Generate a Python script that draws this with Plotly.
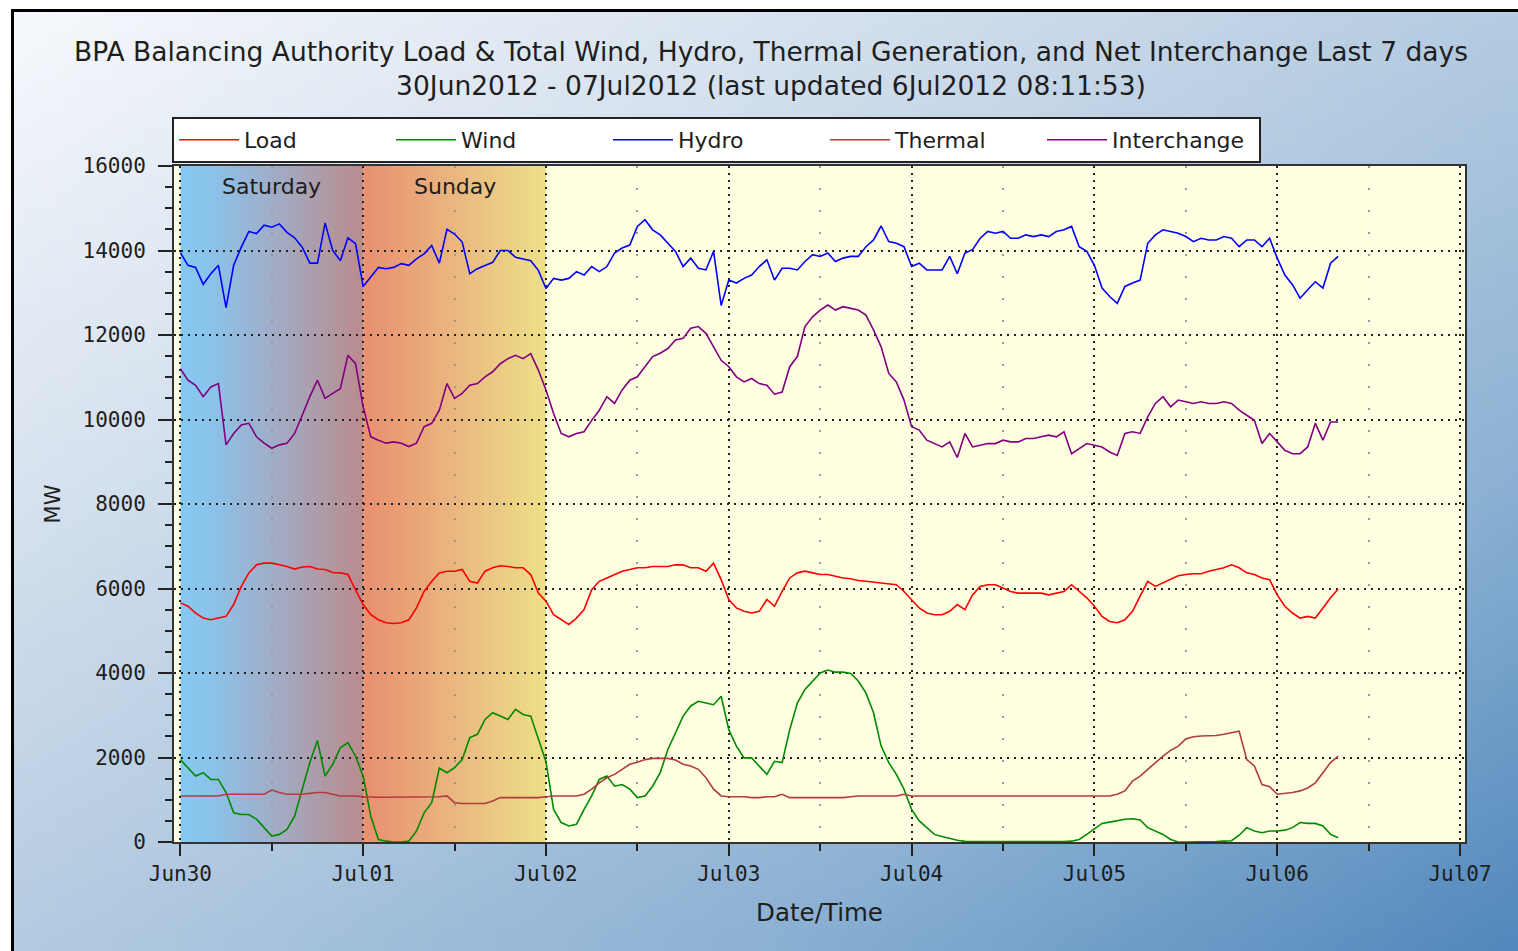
import plotly.graph_objects as go
import pandas as pd
import zlib, struct, base64

# ---------------- data (hourly readings, 30Jun2012 00:00 .. 06Jul2012 08:00) ----------------
times = pd.date_range("2012-06-30 00:00", "2012-07-06 08:00", freq="1h")

load = [5660, 5580, 5420, 5300, 5260, 5300, 5340, 5620, 6050, 6370, 6560, 6600, 6600, 6560, 6520, 6460, 6510, 6520, 6460, 6450, 6380, 6370, 6330, 5970, 5620,
        5380, 5260, 5190, 5170, 5190, 5260, 5540, 5930, 6170, 6370, 6410, 6410, 6450, 6170, 6130, 6410, 6490, 6540, 6520, 6490, 6490, 6330, 5890, 5700,
        5380, 5260, 5150, 5300, 5500, 5970, 6170, 6250, 6330, 6410, 6450, 6490, 6490, 6520, 6520, 6520, 6560, 6560, 6490, 6490, 6410, 6600, 6210, 5740,
        5540, 5460, 5420, 5460, 5740, 5580, 5930, 6250, 6370, 6410, 6370, 6330, 6330, 6290, 6250, 6230, 6190, 6170, 6150, 6130, 6110, 6090, 5930, 5740,
        5540, 5420, 5380, 5380, 5460, 5620, 5500, 5850, 6050, 6090, 6090, 6010, 5930, 5890, 5890, 5890,
        5890, 5850, 5890, 5930, 6090, 5930, 5780, 5580, 5340, 5220, 5190, 5260, 5460, 5820, 6170, 6050, 6130, 6210, 6300, 6330, 6350, 6350, 6410, 6450,
        6490, 6560, 6490, 6370, 6330, 6250, 6210, 5850, 5580, 5420, 5300, 5340, 5300, 5540, 5780, 5990]

wind = [1950, 1760, 1560, 1640, 1480, 1480, 1170, 690, 650, 650, 540, 340, 140, 180, 300, 610, 1250, 1880, 2400, 1560, 1840, 2230, 2350, 2030, 1560,
        610, 60, 20, 0, 0, 20, 260, 690, 930, 1750, 1640, 1760, 1950, 2470, 2550, 2900, 3060, 2980, 2900, 3140, 3020, 2980, 2430, 1900,
        770, 460, 380, 420, 770, 1090, 1480, 1560, 1320, 1360, 1250, 1050, 1090, 1320, 1640, 2190, 2580, 2980, 3220, 3330, 3290, 3250, 3450, 2660,
        2270, 1990, 1990, 1800, 1600, 1910, 1880, 2660, 3290, 3610, 3810, 4000, 4070, 4020, 4020, 3990, 3810, 3530, 3060, 2270, 1880, 1600, 1250, 770,
        500, 340, 180, 130, 80, 40, 15,
        10, 10, 10, 10, 10, 10, 10, 10,
        0, 0, 0, 0, 10, 20, 60, 180, 300, 440, 470, 500, 540, 550, 520, 340, 260, 180, 60, 0, 0, 0, 10, 10, 10, 20, 30, 160, 340, 260, 220, 260,
        260, 280, 340, 460, 440, 440, 380, 180, 100]

hydro = [13950, 13650, 13600, 13200, 13450, 13650, 12650, 13650, 14080, 14450, 14400, 14600, 14550, 14630, 14430, 14300, 14080, 13700, 13700, 14650, 14000, 13760, 14300, 14160, 13150,
         13370, 13600, 13570, 13600, 13690, 13650, 13800, 13920, 14120, 13700, 14500, 14390, 14200, 13450, 13570, 13650, 13720, 14000, 14000, 13840, 13800, 13760, 13530, 13100,
         13340, 13300, 13340, 13500, 13420, 13620, 13500, 13620, 13940, 14060, 14130, 14570, 14730, 14490, 14370, 14170, 13980, 13620, 13820, 13580, 13540, 13980, 12700,
         13300, 13230, 13340, 13420, 13620, 13780, 13300, 13580, 13580, 13540, 13740, 13900, 13860, 13940,
         13740, 13820, 13860, 13860, 14090, 14250, 14580, 14210, 14170, 14090, 13620, 13700, 13540, 13540, 13540, 13860, 13450, 13940, 14020, 14290, 14450, 14410, 14450, 14290,
         14290, 14370, 14330, 14370, 14330, 14450, 14490, 14570, 14090, 13980, 13650,
         13110, 12910, 12750, 13150, 13230, 13300, 14170, 14370, 14490, 14450, 14410, 14330, 14210, 14290, 14250, 14250, 14330, 14290, 14090, 14250, 14250, 14090, 14290,
         13820, 13420, 13190, 12870, 13070, 13260, 13110, 13700, 13860]

thermal = [1090, 1090, 1090, 1090, 1090, 1090, 1130, 1130, 1130, 1130, 1130, 1130, 1230, 1170, 1130, 1130, 1130, 1150, 1170, 1170, 1130, 1090, 1090, 1090, 1070,
           1060, 1060, 1060, 1060, 1060, 1060, 1060, 1060, 1060, 1070, 1090, 930, 910, 910, 910, 910, 970, 1050, 1050, 1050, 1050, 1050, 1050, 1070,
           1090, 1090, 1090, 1090, 1130, 1250, 1400, 1520, 1600, 1720, 1840, 1890, 1950, 1980, 1980, 1980, 1940, 1840, 1800, 1720, 1520, 1250, 1090,
           1070, 1070, 1070, 1050, 1050, 1070, 1070, 1130, 1050, 1050, 1050, 1050, 1050, 1050, 1050, 1050, 1070, 1090, 1090, 1090, 1090, 1090, 1090, 1130,
           1090, 1090, 1090, 1090, 1090, 1090, 1090, 1090, 1090, 1090, 1090, 1090, 1090, 1090, 1090, 1090, 1090,
           1090, 1090, 1090, 1090, 1090, 1090, 1090, 1090, 1090, 1090, 1130, 1210, 1440, 1560, 1720, 1880, 2030, 2170, 2270, 2440, 2490, 2510, 2510, 2520,
           2550, 2580, 2620, 1950, 1800, 1360, 1310, 1130, 1150, 1170, 1210, 1280, 1400, 1640, 1880, 2030]

interchange = [11200, 10930, 10810, 10540, 10770, 10850, 9400, 9670, 9870, 9910, 9590, 9440, 9320, 9400, 9440, 9670, 10100, 10540, 10930, 10500, 10620, 10730, 11520, 11320, 10300,
               9590, 9510, 9440, 9470, 9440, 9360, 9440, 9830, 9910, 10220, 10850, 10500, 10620, 10810, 10850, 11010, 11130, 11320, 11440, 11520, 11440, 11560, 11170, 10700,
               10140, 9670, 9590, 9670, 9710, 9980, 10220, 10540, 10380, 10700, 10930, 11010, 11250, 11490, 11570, 11680, 11880, 11920, 12160, 12200, 12040, 11720, 11400,
               11250, 11010, 10890, 10970, 10850, 10810, 10600, 10650, 11250, 11490, 12200, 12430, 12590, 12710,
               12590, 12670, 12630, 12590, 12470, 12120, 11720, 11090, 10890, 10460, 9830, 9750, 9510, 9430, 9350, 9470, 9100, 9670, 9350, 9390, 9430, 9430, 9510, 9470,
               9470, 9550, 9550, 9590, 9630, 9590, 9710, 9190, 9310, 9430, 9390,
               9350, 9230, 9150, 9670, 9710, 9670, 10060, 10380, 10540, 10300, 10460, 10420, 10380, 10420, 10380, 10380, 10420, 10380, 10220, 10100, 9980, 9430, 9670,
               9470, 9270, 9190, 9190, 9350, 9910, 9510, 9940, 9940]

series_names = ["Load", "Wind", "Hydro", "Thermal", "Interchange"]
series_colors = ["#ff0000", "#008a00", "#0000ff", "#b03c3c", "#800080"]
weekend_days = ["2012-06-30", "2012-07-01"]
weekend_labels = ["Saturday", "Sunday"]
title_lines = ["BPA Balancing Authority Load &amp; Total Wind, Hydro, Thermal Generation, and Net Interchange Last 7 days",
               "30Jun2012 - 07Jul2012 (last updated 6Jul2012 08:11:53)"]

# ---------------- helpers: tiny PNG gradient builder ----------------
def lerp_stops(stops, t):
    t = max(0.0, min(1.0, t))
    for k in range(len(stops) - 1):
        t0, c0 = stops[k]
        t1, c1 = stops[k + 1]
        if t <= t1:
            f = (t - t0) / (t1 - t0) if t1 > t0 else 0
            return tuple(int(round(c0[i] + (c1[i] - c0[i]) * f)) for i in range(3))
    return stops[-1][1]

def make_png(w, h, pixel):
    raw = bytearray()
    for j in range(h):
        raw.append(0)
        for i in range(w):
            raw += bytes(pixel(i, j))
    def chunk(tag, data):
        return struct.pack(">I", len(data)) + tag + data + struct.pack(">I", zlib.crc32(tag + data) & 0xffffffff)
    png = (b"\x89PNG\r\n\x1a\n" + chunk(b"IHDR", struct.pack(">IIBBBBB", w, h, 8, 2, 0, 0, 0))
           + chunk(b"IDAT", zlib.compress(bytes(raw), 9)) + chunk(b"IEND", b""))
    return "data:image/png;base64," + base64.b64encode(png).decode()

bg_stops = [(0.0, (246, 248, 252)), (0.25, (216, 227, 239)), (0.5, (180, 203, 225)),
            (0.75, (140, 177, 211)), (1.0, (82, 137, 188))]
BW, BH = 96, 60
bg_src = make_png(BW, BH, lambda i, j: lerp_stops(bg_stops, ((i / (BW - 1)) + (j / (BH - 1))) / 2))

sat_stops = [(0.0, (135, 201, 241)), (0.15, (138, 196, 236)), (0.5, (160, 174, 200)), (1.0, (186, 140, 142))]
sun_stops = [(0.0, (232, 144, 112)), (0.5, (234, 183, 128)), (1.0, (237, 224, 136))]
sat_src = make_png(64, 2, lambda i, j: lerp_stops(sat_stops, i / 63))
sun_src = make_png(64, 2, lambda i, j: lerp_stops(sun_stops, i / 63))

# ---------------- figure ----------------
W, H = 1518, 951
L, R, T, B = 174, 53, 166, 109
PW, PH = W - L - R, H - T - B

def px_x(px):
    return (px - L) / PW

def px_y(py):
    return (H - B - py) / PH

FONT = "DejaVu Sans"
MONO = "DejaVu Sans Mono"
TXT = "#1e1e1e"

fig = go.Figure()
for name, color, vals in zip(series_names, series_colors, [load, wind, hydro, thermal, interchange]):
    fig.add_trace(go.Scatter(x=times, y=vals, mode="lines", name=name,
                             line=dict(color=color, width=1.6)))

images = [
    dict(source=bg_src, xref="paper", yref="paper", x=px_x(12), y=px_y(10),
         sizex=(W - 12) / PW, sizey=(H - 10) / PH, xanchor="left", yanchor="top",
         sizing="stretch", layer="below"),
]
for day, src in zip(weekend_days, [sat_src, sun_src]):
    images.append(dict(source=src, xref="x", yref="y", x=day, y=16000,
                       sizex=86400000, sizey=16000, xanchor="left", yanchor="top",
                       sizing="stretch", layer="below"))

shapes = [
    dict(type="rect", xref="paper", yref="paper", x0=0, x1=1, y0=0, y1=1,
         fillcolor="#fffee1", line=dict(width=0), layer="below"),
    dict(type="rect", xref="paper", yref="paper", x0=px_x(12.5), y0=px_y(10.5),
         x1=px_x(W + 20), y1=px_y(H + 20), line=dict(color="#000000", width=3),
         fillcolor="rgba(0,0,0,0)", layer="above"),
]

annotations = []
for day, lab in zip(weekend_days, weekend_labels):
    annotations.append(dict(x=pd.Timestamp(day) + pd.Timedelta(hours=12), y=px_y(186),
                            xref="x", yref="paper", text=lab, showarrow=False,
                            font=dict(family=FONT, size=22, color=TXT),
                            xanchor="center", yanchor="middle"))

fig.update_layout(
    width=W, height=H,
    margin=dict(l=L, r=R, t=T, b=B, autoexpand=False),
    paper_bgcolor="#ffffff",
    plot_bgcolor="#fffee1",
    images=images, shapes=shapes, annotations=annotations,
    title=dict(text="<br>".join(title_lines), x=771 / W, xanchor="center",
               y=1 - 61 / H, yanchor="top",
               font=dict(family=FONT, size=26.5, color=TXT)),
    legend=dict(orientation="h", x=px_x(172), y=px_y(117), xanchor="left", yanchor="top",
                bgcolor="#ffffff", bordercolor="#222222", borderwidth=2,
                entrywidth=142, entrywidthmode="pixels", itemwidth=60,
                font=dict(family=FONT, size=22, color=TXT),
                tracegroupgap=0, itemclick=False),
    showlegend=True,
)

fig.update_xaxes(
    type="date",
    range=[pd.Timestamp("2012-06-29 23:10"), pd.Timestamp("2012-07-07 00:39")],
    tick0="2012-06-30", dtick=86400000, tickformat="%b%d",
    ticks="outside", ticklen=12, tickwidth=2, tickcolor="#222222",
    showline=True, linecolor="#333333", linewidth=2, mirror=True,
    showgrid=True, gridcolor="#222222", gridwidth=2, griddash="2px,5px",
    zeroline=False,
    tickfont=dict(family=MONO, size=21, color=TXT),
    title=dict(text="Date/Time", font=dict(family=FONT, size=24.5, color=TXT), standoff=19),
    minor=dict(tick0="2012-06-30 12:00", dtick=43200000, ticks="outside", ticklen=7,
               tickwidth=2, tickcolor="#222222", showgrid=True, gridcolor="#9a9a9a",
               gridwidth=2, griddash="2px,20px"),
)
fig.update_yaxes(
    range=[0, 16000], dtick=2000, tick0=0, tickformat="d",
    ticks="outside", ticklen=14, tickwidth=2, tickcolor="#222222",
    showline=True, linecolor="#333333", linewidth=2, mirror=True,
    showgrid=True, gridcolor="#222222", gridwidth=2, griddash="2px,5px",
    zeroline=False,
    tickfont=dict(family=MONO, size=21, color=TXT),
    ticklabelstandoff=8,
    title=dict(text="MW", font=dict(family=FONT, size=21, color=TXT), standoff=16),
    minor=dict(dtick=500, ticks="outside", ticklen=7, tickwidth=2, tickcolor="#222222",
               showgrid=False),
)

fig.write_html("out.html", config={"displayModeBar": False},
               post_script="document.body.style.margin='0px';")
